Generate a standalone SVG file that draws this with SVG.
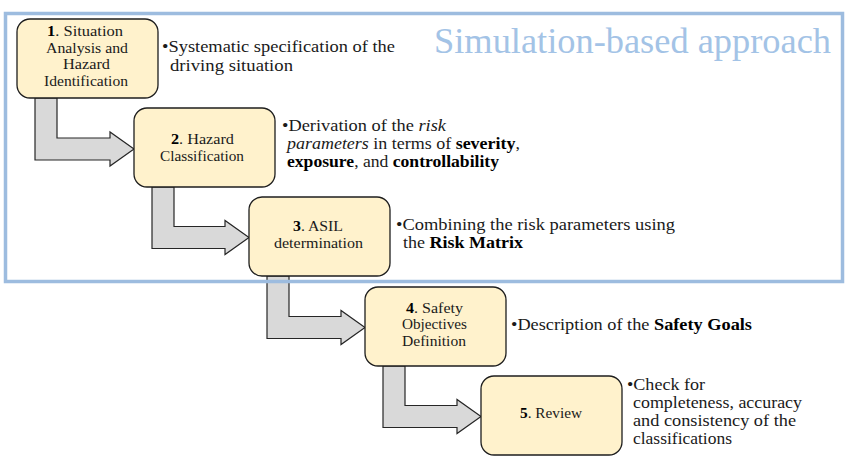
<svg xmlns="http://www.w3.org/2000/svg" width="857" height="467" viewBox="0 0 857 467">
<style>
.box{fill:#fff2cc;stroke:#1e1e1e;stroke-width:1.3}
.arr{fill:#d9d9d9;stroke:#262626;stroke-width:1.2;stroke-linejoin:miter}
text{font-family:'Liberation Serif','DejaVu Serif','Noto Serif',serif}
.bt{font-size:15px;fill:#1a1a1a}
.dt{font-size:17px;fill:#1a1a1a}
.b{font-weight:bold;fill:#000}
.i{font-style:italic}
.title{font-size:36px;fill:#a3c3e6}
</style>
<rect x="0" y="0" width="857" height="467" fill="#ffffff"/>
<g id="connectors">
<path class="arr" d="M35,98 L35,160 L110,160 L110,166 L134,149 L110,132 L110,138 L57,138 L57,98 Z"/>
<path class="arr" d="M152,187 L152,248.5 L225,248.5 L225,254.5 L249,237.5 L225,220.5 L225,226.5 L174,226.5 L174,187 Z"/>
<path class="arr" d="M267,276 L267,338.5 L341,338.5 L341,344.5 L365,327.5 L341,310.5 L341,316.5 L289,316.5 L289,276 Z"/>
<path class="arr" d="M383,366 L383,427.5 L457,427.5 L457,433.5 L481,416.5 L457,399.5 L457,405.5 L405,405.5 L405,366 Z"/>
</g>
<g id="frame">
<rect x="5.5" y="13.5" width="837" height="268" fill="none" stroke="#9dbcdf" stroke-width="3.5"/>
<text class="title" x="434" y="53" textLength="397" lengthAdjust="spacingAndGlyphs">Simulation-based approach</text>
</g>
<g id="node1">
<rect class="box" x="17" y="19" width="141" height="79" rx="13"/>
<text class="bt" x="47" y="36" textLength="76" lengthAdjust="spacingAndGlyphs"><tspan class="b">1</tspan>. Situation</text>
<text class="bt" x="46" y="52.5" textLength="82" lengthAdjust="spacingAndGlyphs">Analysis and</text>
<text class="bt" x="63" y="69" textLength="47" lengthAdjust="spacingAndGlyphs">Hazard</text>
<text class="bt" x="44" y="85.5" textLength="84" lengthAdjust="spacingAndGlyphs">Identification</text>
</g>
<g id="desc1">
<text class="dt" x="162" y="52" textLength="233" lengthAdjust="spacingAndGlyphs">•Systematic specification of the</text>
<text class="dt" x="170" y="71" textLength="123" lengthAdjust="spacingAndGlyphs">driving situation</text>
</g>
<g id="node2">
<rect class="box" x="134" y="108" width="141" height="79" rx="13"/>
<text class="bt" x="171" y="144" textLength="63" lengthAdjust="spacingAndGlyphs"><tspan class="b">2</tspan>. Hazard</text>
<text class="bt" x="160" y="160.5" textLength="84" lengthAdjust="spacingAndGlyphs">Classification</text>
</g>
<g id="desc2">
<text class="dt" x="282" y="131" textLength="164" lengthAdjust="spacingAndGlyphs">•Derivation of the <tspan class="i">risk</tspan></text>
<text class="dt" x="287" y="149" textLength="233" lengthAdjust="spacingAndGlyphs"><tspan class="i">parameters</tspan> in terms of <tspan class="b">severity</tspan>,</text>
<text class="dt" x="287" y="167" textLength="212" lengthAdjust="spacingAndGlyphs"><tspan class="b">exposure</tspan>, and <tspan class="b">controllability</tspan></text>
</g>
<g id="node3">
<rect class="box" x="249" y="197" width="141" height="79" rx="13"/>
<text class="bt" x="293" y="231" textLength="50" lengthAdjust="spacingAndGlyphs"><tspan class="b">3</tspan>. ASIL</text>
<text class="bt" x="274" y="247.5" textLength="89" lengthAdjust="spacingAndGlyphs">determination</text>
</g>
<g id="desc3">
<text class="dt" x="396" y="230" textLength="279" lengthAdjust="spacingAndGlyphs">•Combining the risk parameters using</text>
<text class="dt" x="403" y="248" textLength="120" lengthAdjust="spacingAndGlyphs">the <tspan class="b">Risk Matrix</tspan></text>
</g>
<g id="node4">
<rect class="box" x="365" y="287" width="141" height="79" rx="13"/>
<text class="bt" x="406" y="312.5" textLength="57" lengthAdjust="spacingAndGlyphs"><tspan class="b">4</tspan>. Safety</text>
<text class="bt" x="402" y="329" textLength="65" lengthAdjust="spacingAndGlyphs">Objectives</text>
<text class="bt" x="402" y="345.5" textLength="64" lengthAdjust="spacingAndGlyphs">Definition</text>
</g>
<g id="desc4">
<text class="dt" x="511" y="330" textLength="241" lengthAdjust="spacingAndGlyphs">•Description of the <tspan class="b">Safety Goals</tspan></text>
</g>
<g id="node5">
<rect class="box" x="481" y="376" width="141" height="79" rx="13"/>
<text class="bt" x="520" y="418" textLength="62" lengthAdjust="spacingAndGlyphs"><tspan class="b">5</tspan>. Review</text>
</g>
<g id="desc5">
<text class="dt" x="627" y="390" textLength="78" lengthAdjust="spacingAndGlyphs">•Check for</text>
<text class="dt" x="633" y="408" textLength="169" lengthAdjust="spacingAndGlyphs">completeness, accuracy</text>
<text class="dt" x="633" y="426" textLength="163" lengthAdjust="spacingAndGlyphs">and consistency of the</text>
<text class="dt" x="633" y="444" textLength="99" lengthAdjust="spacingAndGlyphs">classifications</text>
</g>
</svg>
